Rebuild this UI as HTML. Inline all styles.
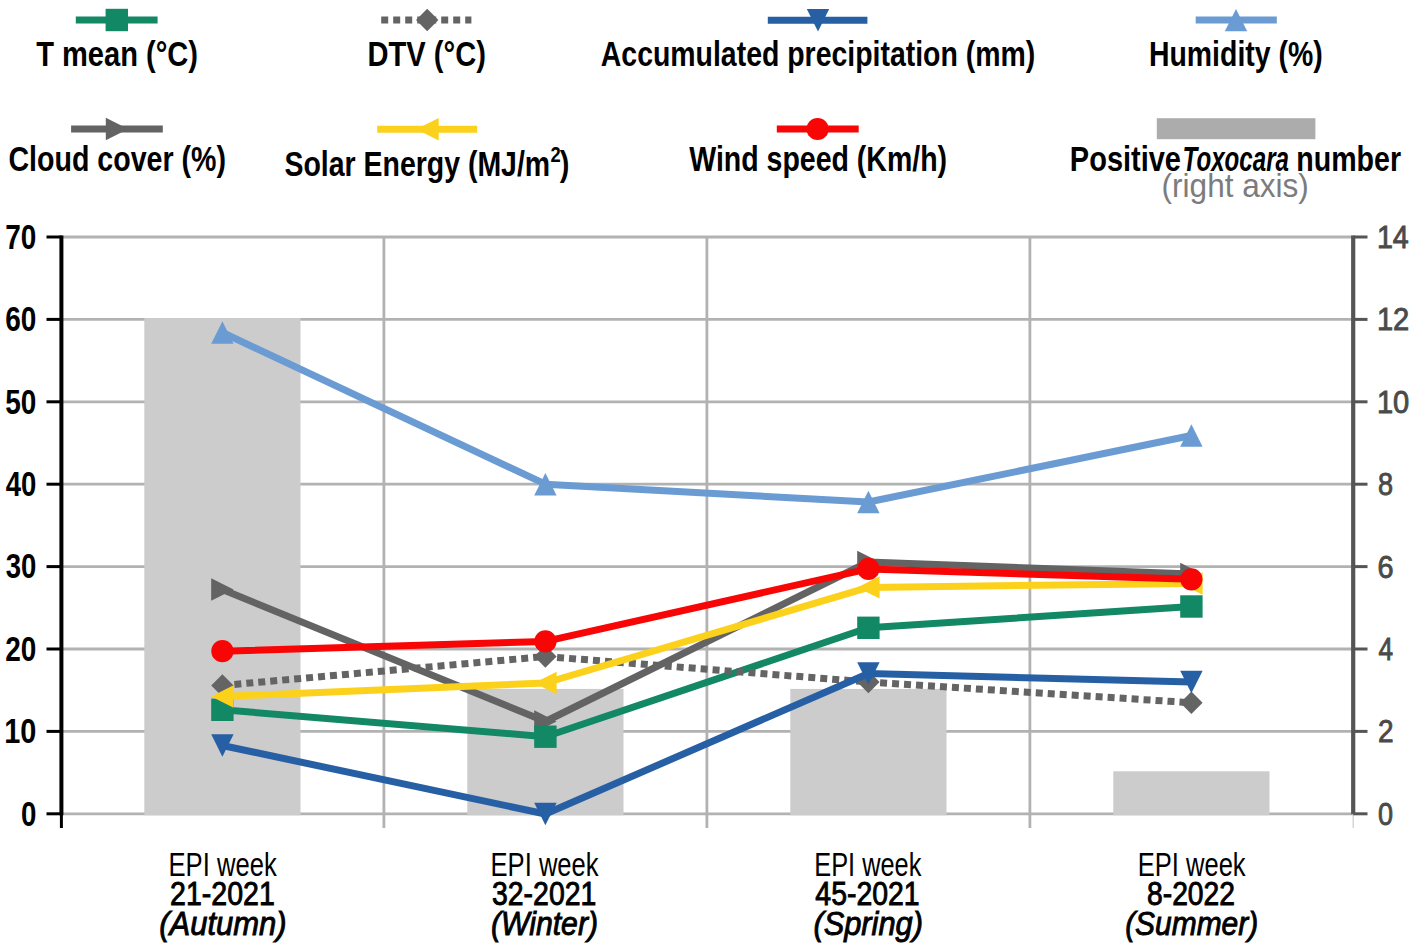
<!DOCTYPE html>
<html><head><meta charset="utf-8"><title>Chart</title>
<style>
html,body{margin:0;padding:0;background:#fff;}
body{width:1418px;height:952px;overflow:hidden;}
svg{display:block;}
text{font-family:"Liberation Sans",sans-serif;}
</style></head><body>
<svg width="1418" height="952" viewBox="0 0 1418 952">
<rect width="1418" height="952" fill="#fff"/>

<g stroke="#b2b2b2" stroke-width="2.8" fill="none">
<line x1="60.9" y1="813.8" x2="1352.9" y2="813.8"/>
<line x1="60.9" y1="731.4" x2="1352.9" y2="731.4"/>
<line x1="60.9" y1="649.0" x2="1352.9" y2="649.0"/>
<line x1="60.9" y1="566.6" x2="1352.9" y2="566.6"/>
<line x1="60.9" y1="484.2" x2="1352.9" y2="484.2"/>
<line x1="60.9" y1="401.8" x2="1352.9" y2="401.8"/>
<line x1="60.9" y1="319.4" x2="1352.9" y2="319.4"/>
<line x1="60.9" y1="237.0" x2="1352.9" y2="237.0"/>
<line x1="383.9" y1="237.0" x2="383.9" y2="828"/>
<line x1="706.9" y1="237.0" x2="706.9" y2="828"/>
<line x1="1029.9" y1="237.0" x2="1029.9" y2="828"/>
</g>
<rect x="144.3" y="318.1" width="156.2" height="497.2" fill="#cccccc"/>
<rect x="467.3" y="688.9" width="156.2" height="126.4" fill="#cccccc"/>
<rect x="790.3" y="688.9" width="156.2" height="126.4" fill="#cccccc"/>
<rect x="1113.3" y="771.3" width="156.2" height="44.0" fill="#cccccc"/>
<line x1="61.4" y1="235.6" x2="61.4" y2="815.2" stroke="#000" stroke-width="4"/>
<line x1="61.4" y1="813.8" x2="61.4" y2="828" stroke="#000" stroke-width="3"/>
<line x1="46.5" y1="813.8" x2="61.4" y2="813.8" stroke="#000" stroke-width="3"/>
<line x1="46.5" y1="731.4" x2="61.4" y2="731.4" stroke="#000" stroke-width="3"/>
<line x1="46.5" y1="649.0" x2="61.4" y2="649.0" stroke="#000" stroke-width="3"/>
<line x1="46.5" y1="566.6" x2="61.4" y2="566.6" stroke="#000" stroke-width="3"/>
<line x1="46.5" y1="484.2" x2="61.4" y2="484.2" stroke="#000" stroke-width="3"/>
<line x1="46.5" y1="401.8" x2="61.4" y2="401.8" stroke="#000" stroke-width="3"/>
<line x1="46.5" y1="319.4" x2="61.4" y2="319.4" stroke="#000" stroke-width="3"/>
<line x1="46.5" y1="237.0" x2="61.4" y2="237.0" stroke="#000" stroke-width="3"/>
<line x1="1353.2" y1="235.6" x2="1353.2" y2="814.3" stroke="#555" stroke-width="4.2"/>
<line x1="1353.2" y1="813.8" x2="1353.2" y2="828" stroke="#ccc" stroke-width="1.2"/>
<line x1="1353.2" y1="813.8" x2="1367.5" y2="813.8" stroke="#555" stroke-width="3"/>
<line x1="1353.2" y1="731.4" x2="1367.5" y2="731.4" stroke="#555" stroke-width="3"/>
<line x1="1353.2" y1="649.0" x2="1367.5" y2="649.0" stroke="#555" stroke-width="3"/>
<line x1="1353.2" y1="566.6" x2="1367.5" y2="566.6" stroke="#555" stroke-width="3"/>
<line x1="1353.2" y1="484.2" x2="1367.5" y2="484.2" stroke="#555" stroke-width="3"/>
<line x1="1353.2" y1="401.8" x2="1367.5" y2="401.8" stroke="#555" stroke-width="3"/>
<line x1="1353.2" y1="319.4" x2="1367.5" y2="319.4" stroke="#555" stroke-width="3"/>
<line x1="1353.2" y1="237.0" x2="1367.5" y2="237.0" stroke="#555" stroke-width="3"/>
<polyline points="222.4,589.5 545.4,721.5 868.4,562.0 1191.4,574.0" fill="none" stroke="#636363" stroke-width="7" stroke-linejoin="round"/>
<polygon points="211.2,578.3 233.6,589.5 211.2,600.7" fill="#636363"/>
<polygon points="534.2,710.3 556.6,721.5 534.2,732.7" fill="#636363"/>
<polygon points="857.2,550.8 879.6,562.0 857.2,573.2" fill="#636363"/>
<polygon points="1180.2,562.8 1202.6,574.0 1180.2,585.2" fill="#636363"/>
<polyline points="222.4,709.8 545.4,736.7 868.4,627.8 1191.4,606.5" fill="none" stroke="#128865" stroke-width="7" stroke-linejoin="round"/>
<rect x="211.2" y="698.6" width="22.4" height="22.4" fill="#128865"/>
<rect x="534.2" y="725.5" width="22.4" height="22.4" fill="#128865"/>
<rect x="857.2" y="616.6" width="22.4" height="22.4" fill="#128865"/>
<rect x="1180.2" y="595.3" width="22.4" height="22.4" fill="#128865"/>
<polyline points="222.4,685.5 545.4,656.5 868.4,682.0 1191.4,702.7" fill="none" stroke="#646464" stroke-width="7" stroke-linejoin="round" stroke-dasharray="7 5"/>
<polygon points="222.4,674.3 233.6,685.5 222.4,696.7 211.2,685.5" fill="#646464"/>
<polygon points="545.4,645.3 556.6,656.5 545.4,667.7 534.2,656.5" fill="#646464"/>
<polygon points="868.4,670.8 879.6,682.0 868.4,693.2 857.2,682.0" fill="#646464"/>
<polygon points="1191.4,691.5 1202.6,702.7 1191.4,713.9 1180.2,702.7" fill="#646464"/>
<polyline points="222.4,745.5 545.4,814.0 868.4,673.5 1191.4,682.0" fill="none" stroke="#275fa5" stroke-width="7" stroke-linejoin="round"/>
<polygon points="211.2,734.3 233.6,734.3 222.4,756.7" fill="#275fa5"/>
<polygon points="534.2,802.8 556.6,802.8 545.4,825.2" fill="#275fa5"/>
<polygon points="857.2,662.3 879.6,662.3 868.4,684.7" fill="#275fa5"/>
<polygon points="1180.2,670.8 1202.6,670.8 1191.4,693.2" fill="#275fa5"/>
<polyline points="222.4,332.5 545.4,484.2 868.4,502.0 1191.4,435.5" fill="none" stroke="#6a9bd3" stroke-width="7" stroke-linejoin="round"/>
<polygon points="222.4,321.3 233.6,343.7 211.2,343.7" fill="#6a9bd3"/>
<polygon points="545.4,473.0 556.6,495.4 534.2,495.4" fill="#6a9bd3"/>
<polygon points="868.4,490.8 879.6,513.2 857.2,513.2" fill="#6a9bd3"/>
<polygon points="1191.4,424.3 1202.6,446.7 1180.2,446.7" fill="#6a9bd3"/>
<polyline points="222.4,696.5 545.4,683.0 868.4,587.4 1191.4,583.5" fill="none" stroke="#fcd11c" stroke-width="7" stroke-linejoin="round"/>
<polygon points="233.6,685.3 211.2,696.5 233.6,707.7" fill="#fcd11c"/>
<polygon points="556.6,671.8 534.2,683.0 556.6,694.2" fill="#fcd11c"/>
<polygon points="879.6,576.2 857.2,587.4 879.6,598.6" fill="#fcd11c"/>
<polygon points="1202.6,572.3 1180.2,583.5 1202.6,594.7" fill="#fcd11c"/>
<polyline points="222.4,651.2 545.4,641.4 868.4,568.9 1191.4,579.3" fill="none" stroke="#f80606" stroke-width="7" stroke-linejoin="round"/>
<circle cx="222.4" cy="651.2" r="11.1" fill="#f80606"/>
<circle cx="545.4" cy="641.4" r="11.1" fill="#f80606"/>
<circle cx="868.4" cy="568.9" r="11.1" fill="#f80606"/>
<circle cx="1191.4" cy="579.3" r="11.1" fill="#f80606"/>
<line x1="75.8" y1="20" x2="157.6" y2="20" stroke="#128865" stroke-width="7"/><rect x="105.6" y="8.8" width="22.4" height="22.4" fill="#128865"/>
<line x1="381.2" y1="20" x2="471.4" y2="20" stroke="#646464" stroke-width="7" stroke-dasharray="7 5"/><polygon points="427.2,8.8 438.4,20.0 427.2,31.2 416.0,20.0" fill="#646464"/>
<line x1="767.8" y1="20.2" x2="867.4" y2="20.2" stroke="#275fa5" stroke-width="7"/><polygon points="806.8,9.0 829.2,9.0 818.0,31.4" fill="#275fa5"/>
<line x1="1195.7" y1="20.1" x2="1276.8" y2="20.1" stroke="#6a9bd3" stroke-width="7"/><polygon points="1236.0,8.9 1247.2,31.3 1224.8,31.3" fill="#6a9bd3"/>
<line x1="71.1" y1="129" x2="162.8" y2="129" stroke="#636363" stroke-width="7"/><polygon points="105.8,117.8 128.2,129.0 105.8,140.2" fill="#636363"/>
<line x1="377.2" y1="129.2" x2="477.2" y2="129.2" stroke="#fcd11c" stroke-width="7"/><polygon points="438.7,118.0 416.3,129.2 438.7,140.4" fill="#fcd11c"/>
<line x1="776.8" y1="129" x2="858.7" y2="129" stroke="#f80606" stroke-width="7"/><circle cx="817.6" cy="129.0" r="11.1" fill="#f80606"/>
<rect x="1156.8" y="118.2" width="158.6" height="21" fill="#acacac"/>
<text x="36.15" y="65.9" font-size="34.6" font-weight="bold" fill="#000" textLength="161.85" lengthAdjust="spacingAndGlyphs">T mean (°C)</text>
<text x="367.50" y="65.9" font-size="34.6" font-weight="bold" fill="#000" textLength="118.40" lengthAdjust="spacingAndGlyphs">DTV (°C)</text>
<text x="600.80" y="65.9" font-size="34.6" font-weight="bold" fill="#000" textLength="434.40" lengthAdjust="spacingAndGlyphs">Accumulated precipitation (mm)</text>
<text x="1148.90" y="65.9" font-size="34.6" font-weight="bold" fill="#000" textLength="173.85" lengthAdjust="spacingAndGlyphs">Humidity (%)</text>
<text x="8.45" y="171.4" font-size="34.3" font-weight="bold" fill="#000" textLength="217.50" lengthAdjust="spacingAndGlyphs">Cloud cover (%)</text>
<text x="284.45" y="175.8" font-size="34.3" font-weight="bold" fill="#000" textLength="265.70" lengthAdjust="spacingAndGlyphs">Solar Energy (MJ/m</text>
<text x="689.30" y="171.4" font-size="34.3" font-weight="bold" fill="#000" textLength="257.75" lengthAdjust="spacingAndGlyphs">Wind speed (Km/h)</text>
<text x="1069.85" y="171.4" font-size="34.3" font-weight="bold" fill="#000" textLength="111.15" lengthAdjust="spacingAndGlyphs">Positive</text>
<text x="1182.55" y="171.4" font-size="34.3" font-style="italic" font-weight="bold" fill="#000" textLength="106.40" lengthAdjust="spacingAndGlyphs">Toxocara</text>
<text x="1296.30" y="171.4" font-size="34.3" font-weight="bold" fill="#000" textLength="104.75" lengthAdjust="spacingAndGlyphs">number</text>
<text x="1161.55" y="197.3" font-size="33" fill="#7c7c7c" textLength="147.30" lengthAdjust="spacingAndGlyphs">(right axis)</text>
<text x="168.55" y="875.5" font-size="32.5" fill="#000" textLength="108.15" lengthAdjust="spacingAndGlyphs">EPI week</text>
<text x="170.10" y="905.0" font-size="32.5" fill="#000" stroke="#000" stroke-width="0.9" textLength="104.75" lengthAdjust="spacingAndGlyphs">21-2021</text>
<text x="159.25" y="934.5" font-size="32.5" font-style="italic" fill="#000" stroke="#000" stroke-width="0.9" textLength="127.35" lengthAdjust="spacingAndGlyphs">(Autumn)</text>
<text x="490.55" y="875.5" font-size="32.5" fill="#000" textLength="108.05" lengthAdjust="spacingAndGlyphs">EPI week</text>
<text x="492.00" y="905.0" font-size="32.5" fill="#000" stroke="#000" stroke-width="0.9" textLength="104.30" lengthAdjust="spacingAndGlyphs">32-2021</text>
<text x="491.00" y="934.5" font-size="32.5" font-style="italic" fill="#000" stroke="#000" stroke-width="0.9" textLength="107.00" lengthAdjust="spacingAndGlyphs">(Winter)</text>
<text x="814.25" y="875.5" font-size="32.5" fill="#000" textLength="107.15" lengthAdjust="spacingAndGlyphs">EPI week</text>
<text x="815.35" y="905.0" font-size="32.5" fill="#000" stroke="#000" stroke-width="0.9" textLength="104.25" lengthAdjust="spacingAndGlyphs">45-2021</text>
<text x="813.40" y="934.5" font-size="32.5" font-style="italic" fill="#000" stroke="#000" stroke-width="0.9" textLength="109.50" lengthAdjust="spacingAndGlyphs">(Spring)</text>
<text x="1137.85" y="875.5" font-size="32.5" fill="#000" textLength="107.75" lengthAdjust="spacingAndGlyphs">EPI week</text>
<text x="1147.00" y="905.0" font-size="32.5" fill="#000" stroke="#000" stroke-width="0.9" textLength="88.00" lengthAdjust="spacingAndGlyphs">8-2022</text>
<text x="1125.15" y="934.5" font-size="32.5" font-style="italic" fill="#000" stroke="#000" stroke-width="0.9" textLength="133.05" lengthAdjust="spacingAndGlyphs">(Summer)</text>
<text x="21.00" y="825.6" font-size="34.5" font-weight="bold" fill="#000" textLength="15.40" lengthAdjust="spacingAndGlyphs">0</text>
<text x="4.30" y="743.2" font-size="34.5" font-weight="bold" fill="#000" textLength="32.10" lengthAdjust="spacingAndGlyphs">10</text>
<text x="5.30" y="660.8" font-size="34.5" font-weight="bold" fill="#000" textLength="31.10" lengthAdjust="spacingAndGlyphs">20</text>
<text x="5.80" y="578.4" font-size="34.5" font-weight="bold" fill="#000" textLength="30.60" lengthAdjust="spacingAndGlyphs">30</text>
<text x="5.80" y="496.0" font-size="34.5" font-weight="bold" fill="#000" textLength="30.60" lengthAdjust="spacingAndGlyphs">40</text>
<text x="5.30" y="413.6" font-size="34.5" font-weight="bold" fill="#000" textLength="31.10" lengthAdjust="spacingAndGlyphs">50</text>
<text x="5.30" y="331.2" font-size="34.5" font-weight="bold" fill="#000" textLength="31.10" lengthAdjust="spacingAndGlyphs">60</text>
<text x="5.30" y="248.8" font-size="34.5" font-weight="bold" fill="#000" textLength="31.10" lengthAdjust="spacingAndGlyphs">70</text>
<text x="1377.90" y="824.8" font-size="32" fill="#4a4a4a" stroke="#4a4a4a" stroke-width="0.9" textLength="15.05" lengthAdjust="spacingAndGlyphs">0</text>
<text x="1377.90" y="742.4" font-size="32" fill="#4a4a4a" stroke="#4a4a4a" stroke-width="0.9" textLength="15.55" lengthAdjust="spacingAndGlyphs">2</text>
<text x="1378.40" y="660.0" font-size="32" fill="#4a4a4a" stroke="#4a4a4a" stroke-width="0.9" textLength="14.55" lengthAdjust="spacingAndGlyphs">4</text>
<text x="1377.40" y="577.6" font-size="32" fill="#4a4a4a" stroke="#4a4a4a" stroke-width="0.9" textLength="16.05" lengthAdjust="spacingAndGlyphs">6</text>
<text x="1377.90" y="495.2" font-size="32" fill="#4a4a4a" stroke="#4a4a4a" stroke-width="0.9" textLength="15.05" lengthAdjust="spacingAndGlyphs">8</text>
<text x="1376.90" y="412.8" font-size="32" fill="#4a4a4a" stroke="#4a4a4a" stroke-width="0.9" textLength="32.35" lengthAdjust="spacingAndGlyphs">10</text>
<text x="1376.90" y="330.4" font-size="32" fill="#4a4a4a" stroke="#4a4a4a" stroke-width="0.9" textLength="32.35" lengthAdjust="spacingAndGlyphs">12</text>
<text x="1376.90" y="248.0" font-size="32" fill="#4a4a4a" stroke="#4a4a4a" stroke-width="0.9" textLength="31.85" lengthAdjust="spacingAndGlyphs">14</text>
<text x="550.6" y="162.3" font-size="21.5" font-weight="bold" fill="#000" textLength="10.2" lengthAdjust="spacingAndGlyphs">2</text>
<text x="559.8" y="175.8" font-size="34.3" font-weight="bold" fill="#000" textLength="9.6" lengthAdjust="spacingAndGlyphs">)</text>
</svg>
</body></html>
